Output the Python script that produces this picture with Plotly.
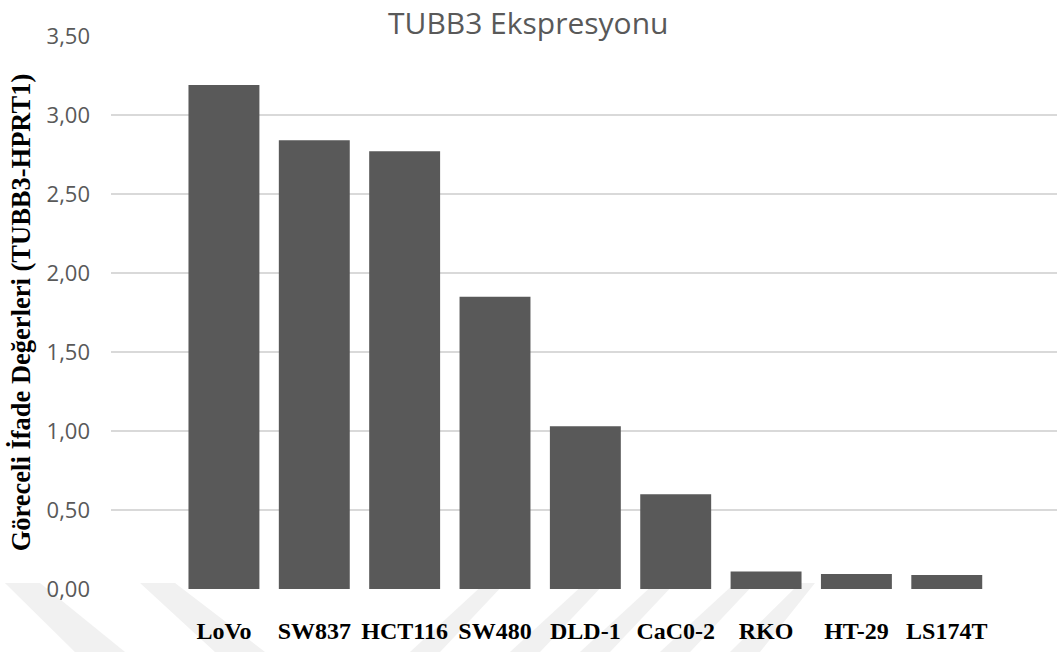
import plotly.graph_objects as go

# Cell lines and their relative TUBB3 expression (normalised to HPRT1)
cell_lines = ["LoVo", "SW837", "HCT116", "SW480", "DLD-1", "CaC0-2", "RKO", "HT-29", "LS174T"]
expression = [3.19, 2.84, 2.77, 1.85, 1.03, 0.60, 0.11, 0.095, 0.089]

y_ticks = [0.0, 0.5, 1.0, 1.5, 2.0, 2.5, 3.0, 3.5]
y_tick_text = ["0,00", "0,50", "1,00", "1,50", "2,00", "2,50", "3,00", "3,50"]

W, H = 1057, 652
L, R, T, B = 111, 0, 36, 63

fig = go.Figure()
fig.add_trace(go.Bar(
    x=list(range(len(cell_lines))),
    y=expression,
    marker=dict(color="#595959", line=dict(width=0)),
    width=0.785,
    hoverinfo="skip",
))


def to_paper(px, py):
    return (px - L) / (W - L - R), (H - B - py) / (H - T - B)


# faint diagonal watermark stripes beneath the axis
stripes = [
    # (top-left x, top-right x, bottom-left x, bottom-right x)
    (5, 40, 75, 125),
    (140, 175, 215, 265),
    (485, 505, 410, 440),
    (585, 605, 510, 540),
    (655, 675, 580, 610),
    (735, 755, 660, 690),
    (800, 815, 730, 760),
]
y_top, y_bot = 583, 652
for tl, tr, bl, br in stripes:
    pts = [to_paper(tl, y_top), to_paper(tr, y_top), to_paper(br, y_bot), to_paper(bl, y_bot)]
    path = "M " + " L ".join(f"{x:.4f},{y:.4f}" for x, y in pts) + " Z"
    fig.add_shape(type="path", path=path, xref="paper", yref="paper",
                  fillcolor="#f1f1f1", line=dict(width=0), layer="below")

# chart heading
tx, ty = to_paper(528, 22)
fig.add_annotation(
    text="TUBB3 Ekspresyonu", xref="paper", yref="paper", x=tx, y=ty,
    xanchor="center", yanchor="middle", showarrow=False,
    font=dict(family="Open Sans", size=30, color="#595959"),
)

fig.update_layout(
    width=W, height=H,
    margin=dict(l=L, r=R, t=T, b=B),
    paper_bgcolor="white",
    plot_bgcolor="rgba(0,0,0,0)",
    showlegend=False,
    bargap=0.215,
    xaxis=dict(
        tickmode="array",
        tickvals=list(range(len(cell_lines))),
        ticktext=cell_lines,
        range=[-1.25, 9.22],
        showgrid=False, zeroline=False, showline=False,
        ticks="", ticklabelstandoff=25,
        tickfont=dict(family="Liberation Serif", size=24, color="black", weight="bold"),
    ),
    yaxis=dict(
        range=[0, 3.5],
        tickmode="array", tickvals=y_ticks, ticktext=y_tick_text,
        showgrid=True, gridcolor="#d9d9d9", gridwidth=2,
        zeroline=False, showline=False, ticks="",
        ticklabelstandoff=20,
        tickfont=dict(family="Open Sans", size=22, color="#595959"),
        title=dict(
            text="Göreceli İfade Değerleri (TUBB3-HPRT1)",
            font=dict(family="Liberation Serif", size=26.5, color="black", weight="bold"),
            standoff=8,
        ),
    ),
)

fig.write_html("out.html")
